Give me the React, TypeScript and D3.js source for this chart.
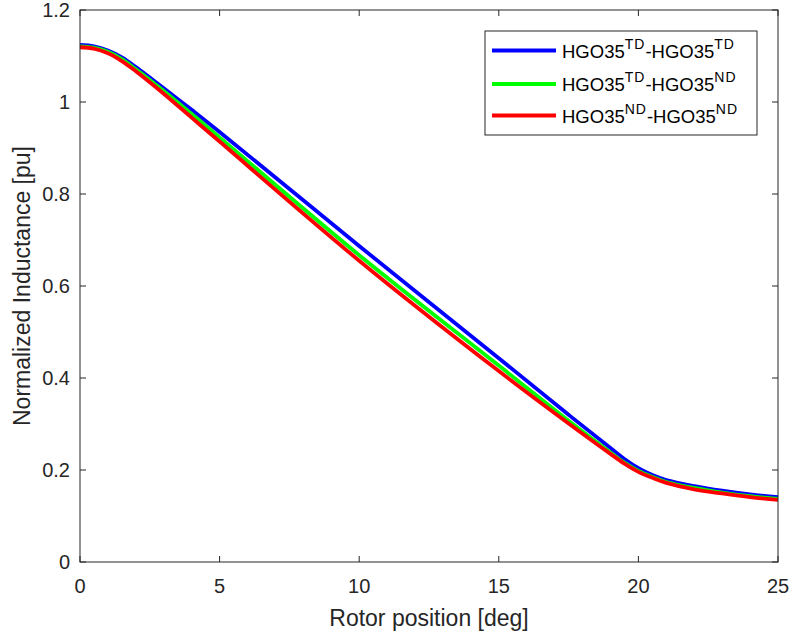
import React from "react";
import * as d3 from "d3";

const xsBlue = [0, 0.5, 1, 1.5, 2, 2.5, 3, 4, 5, 10, 15, 17.5, 19, 19.5, 20, 20.5, 21, 22, 23, 24, 25];
const blueValues = [1.124, 1.121, 1.112, 1.097, 1.076, 1.053, 1.03, 0.983, 0.935, 0.687, 0.443, 0.32, 0.248, 0.224, 0.204, 0.189, 0.178, 0.165, 0.155, 0.147, 0.141];
const xsGreen = [0, 0.5, 1, 1.5, 2, 2.5, 3, 4, 5, 10, 15, 17.5, 19, 19.5, 20, 20.5, 21, 22, 23, 24, 25];
const greenValues = [1.121, 1.118, 1.109, 1.093, 1.071, 1.048, 1.024, 0.974, 0.923, 0.667, 0.427, 0.307, 0.238, 0.216, 0.198, 0.185, 0.174, 0.161, 0.151, 0.143, 0.137];
const xsRed = [0, 0.5, 1, 1.5, 2, 2.5, 3, 4, 5, 10, 15, 17.5, 19, 19.5, 20, 20.5, 21, 22, 23, 24, 25];
const redValues = [1.119, 1.116, 1.106, 1.089, 1.067, 1.043, 1.018, 0.966, 0.914, 0.655, 0.415, 0.301, 0.235, 0.214, 0.196, 0.183, 0.172, 0.158, 0.149, 0.141, 0.135];

const xTicks = [0, 5, 10, 15, 20, 25];
const yTicks = [0, 0.2, 0.4, 0.6, 0.8, 1, 1.2];
const yTickLabels = ["0", "0.2", "0.4", "0.6", "0.8", "1", "1.2"];

const seriesNames = [
  { base1: "HGO35", sup1: "TD", base2: "-HGO35", sup2: "TD" },
  { base1: "HGO35", sup1: "TD", base2: "-HGO35", sup2: "ND" },
  { base1: "HGO35", sup1: "ND", base2: "-HGO35", sup2: "ND" },
];
const seriesColors = ["#0000ff", "#00ff00", "#ff0000"];

export default function App() {
  const W = 792, H = 637;
  const L = 80, R = 778, T = 10, B = 562;
  const x = d3.scaleLinear().domain([0, 25]).range([L, R]);
  const y = d3.scaleLinear().domain([0, 1.2]).range([B, T]);
  const line = d3
    .line<[number, number]>()
    .x((d) => x(d[0]))
    .y((d) => y(d[1]))
    .curve(d3.curveCatmullRom.alpha(0.5));
  const series = [
    xsBlue.map((v, i) => [v, blueValues[i]] as [number, number]),
    xsGreen.map((v, i) => [v, greenValues[i]] as [number, number]),
    xsRed.map((v, i) => [v, redValues[i]] as [number, number]),
  ];
  const axisColor = "#262626";
  const font = "Liberation Sans, Arial, Helvetica, sans-serif";
  const tickLen = 6;
  const legX = 485, legY = 31, legW = 272, legH = 104;
  const rowY = [50.5, 84, 115.5];

  return (
    <svg
      width={W}
      height={H}
      style={{ position: "absolute", left: 0, top: 0, background: "#fff" }}
      fontFamily={font}
    >
      <rect x={0} y={0} width={W} height={H} fill="#fff" />
      {series.map((s, i) => (
        <path key={i} d={line(s) || ""} fill="none" stroke={seriesColors[i]} strokeWidth={3.8} strokeLinejoin="round" />
      ))}
      <rect x={L} y={T} width={R - L} height={B - T} fill="none" stroke={axisColor} strokeWidth={1} />
      {xTicks.map((t) => (
        <g key={"x" + t}>
          <line x1={x(t)} x2={x(t)} y1={B} y2={B - tickLen} stroke={axisColor} />
          <line x1={x(t)} x2={x(t)} y1={T} y2={T + tickLen} stroke={axisColor} />
          <text x={x(t)} y={593} textAnchor="middle" fontSize={20} fill={axisColor}>
            {t}
          </text>
        </g>
      ))}
      {yTicks.map((t, i) => (
        <g key={"y" + t}>
          <line x1={L} x2={L + tickLen} y1={y(t)} y2={y(t)} stroke={axisColor} />
          <line x1={R} x2={R - tickLen} y1={y(t)} y2={y(t)} stroke={axisColor} />
          <text x={70} y={y(t)} dy="0.35em" textAnchor="end" fontSize={20} fill={axisColor}>
            {yTickLabels[i]}
          </text>
        </g>
      ))}
      <text x={(L + R) / 2} y={626} textAnchor="middle" fontSize={23} fill={axisColor}>
        Rotor position [deg]
      </text>
      <text
        transform={`translate(30, ${(T + B) / 2}) rotate(-90)`}
        textAnchor="middle"
        fontSize={23}
        fill={axisColor}
      >
        Normalized Inductance [pu]
      </text>
      <rect x={legX} y={legY} width={legW} height={legH} fill="#fff" stroke={axisColor} strokeWidth={1} />
      {seriesNames.map((n, i) => (
        <g key={"l" + i}>
          <line x1={492} x2={556} y1={rowY[i]} y2={rowY[i]} stroke={seriesColors[i]} strokeWidth={3.8} />
          <text x={562} y={rowY[i] + 7} fontSize={18.5} fill="#000">
            {n.base1}
            <tspan dy={-9} fontSize={14} letterSpacing={1}>{n.sup1}</tspan>
            <tspan dy={9}>{n.base2}</tspan>
            <tspan dy={-9} fontSize={14} letterSpacing={1}>{n.sup2}</tspan>
          </text>
        </g>
      ))}
    </svg>
  );
}
